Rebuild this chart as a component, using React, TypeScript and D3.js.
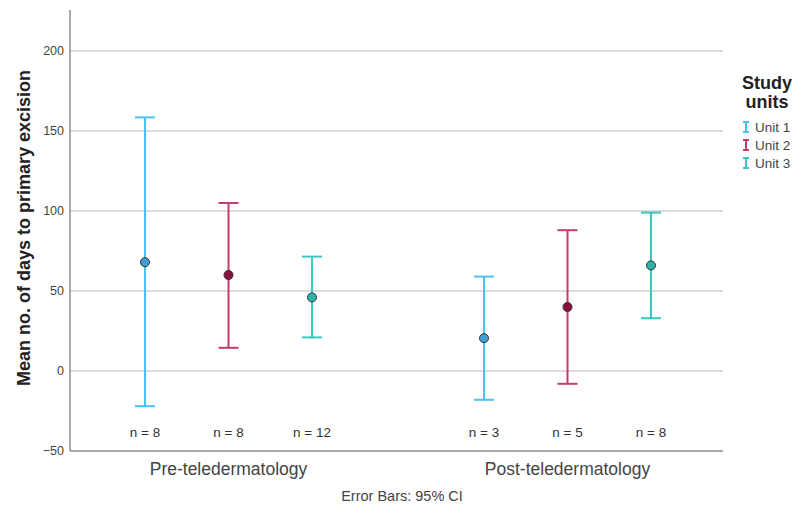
import React from 'react'
import * as d3 from 'd3'

const periods = ['Pre-teledermatology', 'Post-teledermatology']
const units = ['Unit 1', 'Unit 2', 'Unit 3']
const unitColors = ['#4cc3ee', '#c23c6c', '#3cc6be']
const meanFills = ['#3f9fd4', '#8a1040', '#2ab4aa']

// [period][unit]
const means = [[68, 60, 46], [20.5, 40, 66]]
const lowers = [[-22, 14.5, 21], [-18, -8, 33]]
const uppers = [[158.5, 105, 71.5], [59, 88, 99]]
const counts = [[8, 8, 12], [3, 5, 8]]

const yTicks = [-50, 0, 50, 100, 150, 200]

const W = 797
const H = 507
const plotLeft = 70
const plotRight = 723
const plotTop = 10

const font = 'Arial, "Liberation Sans", sans-serif'

export default function App() {
  const y = d3.scaleLinear().domain([-50, 200]).range([451, 51])
  const xGroup = d3.scaleBand().domain(periods).range([59, 737])
  const xUnit = d3.scalePoint().domain(units).range([-83.5, 83.5])

  const gx = (p: string) => (xGroup(p) as number) + xGroup.bandwidth() / 2
  const cx = (p: number, u: number) => gx(periods[p]) + (xUnit(units[u]) as number)

  const cap = 10

  return (
    <svg width={W} height={H} style={{ position: 'absolute', left: 0, top: 0, background: '#fff' }} fontFamily={font}>
      {/* gridlines */}
      {yTicks.filter(t => t > -50).map(t => (
        <line key={t} x1={plotLeft} x2={plotRight} y1={y(t)} y2={y(t)} stroke="#cfcfcf" strokeWidth={1.5} />
      ))}
      {/* axes */}
      <line x1={plotLeft} x2={plotLeft} y1={plotTop} y2={y(-50)} stroke="#8c8c8c" strokeWidth={1.5} />
      <line x1={plotLeft} x2={plotRight} y1={y(-50)} y2={y(-50)} stroke="#8c8c8c" strokeWidth={1.5} />
      {yTicks.map(t => (
        <text key={t} x={64} y={y(t)} dy="0.35em" textAnchor="end" fontSize={12.5} fill="#444">
          {t < 0 ? '\u2212' + Math.abs(t) : t}
        </text>
      ))}
      <text transform={`translate(24,228) rotate(-90)`} textAnchor="middle" fontSize={18} fontWeight="bold" fill="#222" dy="0.35em">
        Mean no. of days to primary excision
      </text>

      {/* error bars */}
      {periods.map((p, pi) => units.map((u, ui) => {
        const x = cx(pi, ui)
        const c = unitColors[ui]
        return (
          <g key={p + u}>
            <line x1={x} x2={x} y1={y(uppers[pi][ui])} y2={y(lowers[pi][ui])} stroke={c} strokeWidth={2} />
            <line x1={x - cap} x2={x + cap} y1={y(uppers[pi][ui])} y2={y(uppers[pi][ui])} stroke={c} strokeWidth={2} />
            <line x1={x - cap} x2={x + cap} y1={y(lowers[pi][ui])} y2={y(lowers[pi][ui])} stroke={c} strokeWidth={2} />
            <circle cx={x} cy={y(means[pi][ui])} r={4.5} fill={meanFills[ui]} stroke="#333" strokeWidth={1} />
            <text x={x} y={432} dy="0.35em" textAnchor="middle" fontSize={13.5} fill="#333">
              n = {counts[pi][ui]}
            </text>
          </g>
        )
      }))}

      {/* category labels */}
      {periods.map(p => (
        <text key={p} x={gx(p)} y={469} dy="0.35em" textAnchor="middle" fontSize={17.5} fill="#444">
          {p}
        </text>
      ))}
      <text x={402} y={496} dy="0.35em" textAnchor="middle" fontSize={14.5} fill="#444">Error Bars: 95% CI</text>

      {/* legend */}
      <text x={767} y={83} dy="0.35em" textAnchor="middle" fontSize={18} fontWeight="bold" fill="#222">Study</text>
      <text x={767} y={102} dy="0.35em" textAnchor="middle" fontSize={18} fontWeight="bold" fill="#222">units</text>
      {units.map((u, i) => {
        const ly = 127 + i * 18
        return (
          <g key={u}>
            <line x1={746} x2={746} y1={ly - 5} y2={ly + 5} stroke={unitColors[i]} strokeWidth={2} />
            <line x1={743} x2={749} y1={ly - 5} y2={ly - 5} stroke={unitColors[i]} strokeWidth={2} />
            <line x1={743} x2={749} y1={ly + 5} y2={ly + 5} stroke={unitColors[i]} strokeWidth={2} />
            <text x={755} y={ly} dy="0.35em" fontSize={13.5} fill="#444">{u}</text>
          </g>
        )
      })}
    </svg>
  )
}
